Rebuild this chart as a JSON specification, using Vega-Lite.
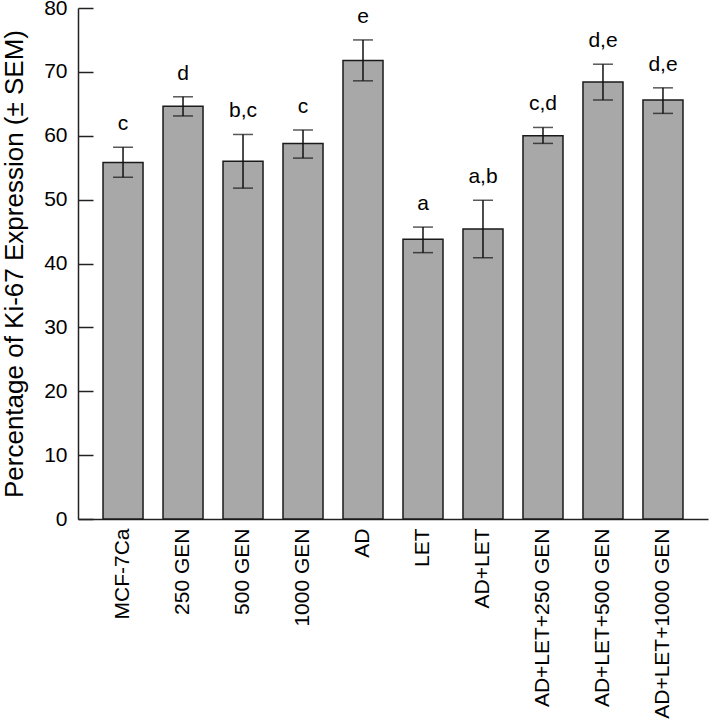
{
  "$schema": "https://vega.github.io/schema/vega-lite/v6.json",
  "autosize": {"type": "none"},
  "padding": {"left": 78, "top": 8, "right": 2, "bottom": 201},
  "width": 630,
  "height": 511,
  "config": {
    "view": {"stroke": null},
    "font": "Liberation Sans"
  },
  "data": {
    "values": [
      {"group": "MCF-7Ca", "mean": 55.8, "lo": 53.5, "hi": 58.2, "sig": "c"},
      {"group": "250 GEN", "mean": 64.6, "lo": 63.1, "hi": 66.1, "sig": "d"},
      {"group": "500 GEN", "mean": 56.0, "lo": 51.8, "hi": 60.2, "sig": "b,c"},
      {"group": "1000 GEN", "mean": 58.8, "lo": 56.5, "hi": 60.9, "sig": "c"},
      {"group": "AD", "mean": 71.8, "lo": 68.6, "hi": 75.0, "sig": "e"},
      {"group": "LET", "mean": 43.8, "lo": 41.7, "hi": 45.7, "sig": "a"},
      {"group": "AD+LET", "mean": 45.4, "lo": 40.9, "hi": 49.9, "sig": "a,b"},
      {"group": "AD+LET+250 GEN", "mean": 60.0, "lo": 58.8, "hi": 61.3, "sig": "c,d"},
      {"group": "AD+LET+500 GEN", "mean": 68.4, "lo": 65.6, "hi": 71.2, "sig": "d,e"},
      {"group": "AD+LET+1000 GEN", "mean": 65.6, "lo": 63.5, "hi": 67.5, "sig": "d,e"}
    ]
  },
  "encoding": {
    "x": {
      "field": "group",
      "type": "nominal",
      "sort": null,
      "scale": {"paddingInner": 0.333, "paddingOuter": 0.417},
      "axis": {
        "title": null,
        "ticks": false,
        "labelAngle": -90,
        "labelFontSize": 21,
        "labelColor": "#000",
        "labelPadding": 9,
        "labelLimit": 300,
        "domainColor": "#222",
        "domainWidth": 1.5
      }
    }
  },
  "layer": [
    {
      "mark": {"type": "bar", "fill": "#a8a8a8", "stroke": "#1a1a1a", "strokeWidth": 1.5},
      "encoding": {
        "y": {
          "field": "mean",
          "type": "quantitative",
          "scale": {"domain": [0, 80]},
          "axis": {
            "title": "Percentage of Ki-67 Expression (± SEM)",
            "titleFontSize": 26,
            "titleFontWeight": "normal",
            "titleColor": "#000",
            "titlePadding": 16,
            "values": [0, 10, 20, 30, 40, 50, 60, 70, 80],
            "grid": false,
            "tickSize": -15,
            "tickColor": "#222",
            "tickWidth": 1.5,
            "labelFontSize": 21,
            "labelColor": "#000",
            "labelPadding": 26,
            "domainColor": "#222",
            "domainWidth": 1.5
          }
        }
      }
    },
    {
      "mark": {"type": "rule", "color": "#111", "strokeWidth": 1.5},
      "encoding": {
        "y": {"field": "lo", "type": "quantitative"},
        "y2": {"field": "hi"}
      }
    },
    {
      "mark": {"type": "tick", "color": "#111", "thickness": 1.5, "size": 20},
      "encoding": {"y": {"field": "hi", "type": "quantitative"}}
    },
    {
      "mark": {"type": "tick", "color": "#111", "thickness": 1.5, "size": 20},
      "encoding": {"y": {"field": "lo", "type": "quantitative"}}
    },
    {
      "mark": {"type": "text", "fontSize": 21, "baseline": "alphabetic", "dy": -17, "color": "#000"},
      "encoding": {
        "y": {"field": "hi", "type": "quantitative"},
        "text": {"field": "sig"}
      }
    }
  ]
}
